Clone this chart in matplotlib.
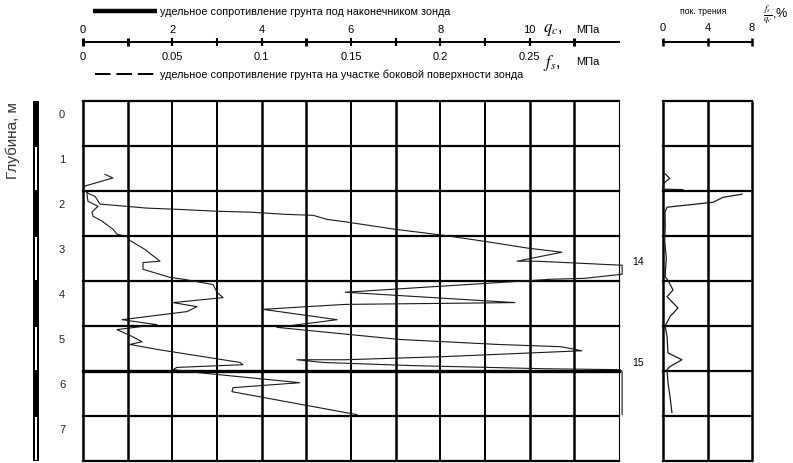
import numpy as np
import matplotlib
matplotlib.use("Agg")
import matplotlib.pyplot as plt
from matplotlib.patches import Rectangle
from matplotlib import transforms

plt.rcParams['font.family'] = ['Liberation Sans', 'DejaVu Sans']
plt.rcParams['mathtext.fontset'] = 'stix'

# ---------------------------------------------------------------- data
depth_ticks = [0, 1, 2, 3, 4, 5, 6, 7]
qc_ticks = [0, 2, 4, 6, 8, 10]
fs_labels = ['0', '0.05', '0.1', '0.15', '0.2', '0.25']
ratio_ticks = [0, 4, 8]

# cone resistance q_c, MPa
qc_depth = [1.63, 1.71, 1.89, 1.96, 2.05, 2.12, 2.29, 2.38, 2.41, 2.45, 2.47, 2.52,
            2.54, 2.63, 2.69, 2.85, 2.98, 3.12, 3.27, 3.36, 3.56, 3.56, 3.65, 3.85,
            3.94, 3.96, 4.25, 4.48, 4.52, 4.57, 4.63, 4.86, 5.03, 5.30, 5.41, 5.46,
            5.55, 5.68, 5.72, 5.75, 5.75, 5.81, 5.88, 5.95, 5.97, 6.01, 6.97]
qc_mpa = [0.49, 0.67, 0.04, 0.0, 0.11, 0.27, 0.38, 1.43, 2.17, 3.0, 3.74, 4.57,
          5.15, 5.46, 5.91, 6.98, 8.04, 9.0, 9.96, 10.72, 9.72, 10.16, 12.07, 12.07,
          11.24, 10.5, 5.87, 9.67, 5.87, 5.01, 4.03, 5.69, 4.34, 7.10, 9.29, 10.7,
          11.17, 8.10, 6.83, 5.87, 4.79, 5.37, 7.37, 10.34, 12.02, 12.07, 12.07]

# sleeve friction f_s, MPa
fs_depth = [2.00, 2.07, 2.23, 2.34, 2.47, 2.56, 2.67, 2.85, 2.96, 3.01, 3.10, 3.30,
            3.56, 3.59, 3.74, 3.92, 3.96, 4.08, 4.25, 4.37, 4.48, 4.57, 4.68, 4.86,
            4.97, 5.08, 5.23, 5.35, 5.41, 5.52, 5.81, 5.86, 5.92, 5.97, 6.04, 6.26,
            6.37, 6.46, 6.97]
fs_mpa = [0.0028, 0.0022, 0.0028, 0.0084, 0.0050, 0.0056, 0.0106, 0.0168, 0.0190,
          0.0246, 0.0263, 0.0347, 0.0431, 0.0336, 0.0336, 0.0487, 0.0560, 0.0728,
          0.0750, 0.0784, 0.0504, 0.0638, 0.0582, 0.0218, 0.0414, 0.0190, 0.0274,
          0.0330, 0.0263, 0.0414, 0.0879, 0.0895, 0.0526, 0.0504, 0.0655, 0.1214,
          0.0839, 0.0834, 0.1533]

# friction ratio f_s/q_c, %
ratio_depth = [1.62, 1.72, 1.82, 1.90, 1.96, 1.97, np.nan, 2.07, 2.14, 2.25, 2.36,
               2.47, 2.80, 3.10, 3.50, 3.90, 3.99, 4.20, 4.35, 4.60, 4.79, 4.92,
               5.00, 5.23, 5.60, 5.75, 5.90, 5.97, 6.26, 6.57, 6.92]
ratio_pct = [0.2, 0.6, 0.1, 0.0, 0.0, 1.8, np.nan, 7.1, 5.4, 4.5, 0.36,
             0.18, 0.2, 0.15, 0.3, 0.18, 0.45, 0.9, 0.36, 1.35, 0.63, 0.36,
             0.2, 0.36, 0.45, 1.7, 0.63, 0.36, 0.45, 0.63, 0.8]

layer_names = ['14', '15']
layer_depth = [3.56, 5.81]

# ---------------------------------------------------------------- layout
W, H = 793, 464
fig = plt.figure(figsize=(W / 100, H / 100), dpi=100)


def fx(px):
    return px / W


def fy(px):
    return 1 - px / H


bottom = fy(462)
height = fy(102) - bottom
main_rect = [fx(83), bottom, fx(619) - fx(83), height]
ratio_rect = [fx(663), bottom, fx(752) - fx(663), height]

ax = fig.add_axes(main_rect)
ax.set_xlim(0, 12)
ax.set_ylim(8, 0)
ax.axis('off')

ax_fs = fig.add_axes(main_rect)
ax_fs.set_xlim(0, 0.3)
ax_fs.set_ylim(8, 0)
ax_fs.axis('off')
ax_fs.patch.set_alpha(0)

rax = fig.add_axes(ratio_rect)
rax.set_xlim(0, 8)
rax.set_ylim(8, 0)
rax.axis('off')

# grid of the main panel
thick_cols = [0, 1, 4, 5, 7, 10, 11]
for c in range(13):
    lw = 1.8 if c in thick_cols else 1.4
    if c == 12:
        lw = 0.8
    ax.plot([c, c], [0, 8], color='black', lw=lw, clip_on=False, solid_capstyle='butt')
for d in range(9):
    lw = 2.4 if d == 6 else 1.6
    ax.plot([0, 12], [d, d], color='black', lw=lw, clip_on=False, solid_capstyle='projecting')

# grid of the ratio panel
for c in ratio_ticks:
    rax.plot([c, c], [0, 8], color='black', lw=1.8, clip_on=False, solid_capstyle='butt')
for d in range(9):
    rax.plot([0, 8], [d, d], color='black', lw=1.6, clip_on=False, solid_capstyle='projecting')

# curves
ax.plot(qc_mpa, qc_depth, color='#1a1a1a', lw=0.8, clip_on=False)
ax_fs.plot(fs_mpa, fs_depth, color='#1a1a1a', lw=0.8, clip_on=False)
rax.plot(ratio_pct, ratio_depth, color='#1a1a1a', lw=0.9, clip_on=False)

for name, d in zip(layer_names, layer_depth):
    ax.text(12.42, d, name, fontsize=7.5, ha='center', va='center', clip_on=False)

# ---------------------------------------------------------------- top scales
top = transforms.blended_transform_factory(ax.transData, fig.transFigure)
rtop = transforms.blended_transform_factory(rax.transData, fig.transFigure)

ax.plot([0, 12], [fy(43), fy(43)], transform=top, color='black', lw=1.4, clip_on=False)
for v in range(12):
    lw = 2.2 if v in (0, 1, 5, 11) else 1.5
    ax.plot([v, v], [fy(39), fy(47)], transform=top, color='black', lw=lw, clip_on=False,
            solid_capstyle='butt')
for v, lab in zip(qc_ticks, fs_labels):
    ax.text(v, fy(30), str(v), transform=top, fontsize=8, ha='center', va='center')
    ax.text(v, fy(57), lab, transform=top, fontsize=8, ha='center', va='center')

ax.text(10.3, fy(30), r'$q_c$,', transform=top, fontsize=12, ha='left', va='center')
ax.text(11.05, fy(30), 'МПа', transform=top, fontsize=8, ha='left', va='center')
ax.text(10.3, fy(63), r'$f_s$,', transform=top, fontsize=12, ha='left', va='center')
ax.text(11.05, fy(62), 'МПа', transform=top, fontsize=8, ha='left', va='center')

# legend lines
ax.plot([0.22, 1.66], [fy(12), fy(12)], transform=top, color='black', lw=3.2,
        clip_on=False, solid_capstyle='butt')
ax.text(1.72, fy(12), 'удельное сопротивление грунта под наконечником зонда',
        transform=top, fontsize=7.8, ha='left', va='center')
ax.plot([0.27, 1.66], [fy(75), fy(75)], transform=top, color='black', lw=1.4,
        clip_on=False, dashes=(8, 3))
ax.text(1.72, fy(75), 'удельное сопротивление грунта на участке боковой поверхности зонда',
        transform=top, fontsize=7.8, ha='left', va='center')

# ratio scale
rax.plot([0, 8], [fy(43), fy(43)], transform=rtop, color='black', lw=1.4, clip_on=False)
for v in ratio_ticks:
    rax.plot([v, v], [fy(39), fy(47)], transform=rtop, color='black', lw=1.8,
             clip_on=False, solid_capstyle='butt')
    rax.text(v, fy(28), str(v), transform=rtop, fontsize=8, ha='center', va='center')
rax.text(3.6, fy(12), 'пок. трения', transform=rtop, fontsize=6.2, ha='center', va='center')
rax.text(9.0, fy(15), r'$\frac{f_s}{q_c}$,%', transform=rtop, fontsize=9,
         ha='left', va='center')

# ---------------------------------------------------------------- depth axis
side = transforms.blended_transform_factory(fig.transFigure, ax.transData)
for d in depth_ticks:
    ax.text(fx(62), d + 0.28, str(d), transform=side, fontsize=8, ha='center',
            va='center', color='#222222')
    fig.add_artist(Rectangle((fx(33), d), fx(6), 1, transform=side,
                             facecolor='black', edgecolor='none'))
    if d % 2 == 1:
        fig.add_artist(Rectangle((fx(35.2), d + 0.03), fx(1.6), 0.94, transform=side,
                                 facecolor='white', edgecolor='none'))

fig.text(fx(13), fy(141), 'Глубина, м', rotation=90, fontsize=11, ha='center',
         va='center', color='#333333')

fig.savefig('out.png', dpi=100)
